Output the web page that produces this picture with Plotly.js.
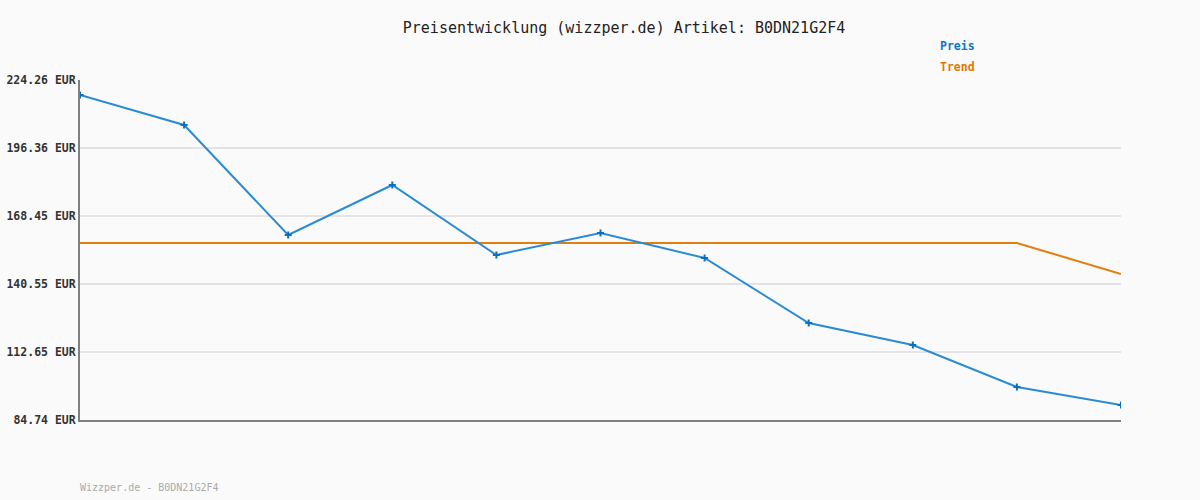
<!DOCTYPE html>
<html>
<head>
<meta charset="utf-8">
<script src="https://cdn.plot.ly/plotly-3.0.1.min.js"></script>
<style>html,body{margin:0;padding:0;background:#fafafa;}#chart{width:1200px;height:500px;}</style>
</head>
<body>
<div id="chart"></div>
<script>
const points = ["1","2","3","4","5","6","7","8","9","10","11"];
const preis = [218.10, 205.79, 160.66, 181.17, 152.45, 161.48, 151.22, 124.55, 115.52, 98.29, 90.90];
const trend = [157.38, 157.38, 157.38, 157.38, 157.38, 157.38, 157.38, 157.38, 157.38, 157.38, 144.66];
const tickVals = [84.74, 112.65, 140.55, 168.45, 196.36, 224.26];
const tickText = ["84.74 EUR", "112.65 EUR", "140.55 EUR", "168.45 EUR", "196.36 EUR", "224.26 EUR"];
const titleText = "Preisentwicklung (wizzper.de) Artikel: B0DN21G2F4";
const footerText = "Wizzper.de - B0DN21G2F4";
const seriesNames = ["Preis", "Trend"];

const mono = "DejaVu Sans Mono, monospace";
const blue = "#2a8bd4", orange = "#e07f10";

const data = [
  {x: points, y: trend, type: "scatter", mode: "lines", name: seriesNames[1],
   line: {color: orange, width: 2}, hoverinfo: "skip"},
  {x: points, y: preis, type: "scatter", mode: "lines+markers", name: seriesNames[0],
   line: {color: blue, width: 2}, marker: {symbol: "cross-thin", size: 5, color: "#0a6fc0", line: {color: "#0a6fc0", width: 2}}}
];

const layout = {
  width: 1200, height: 500,
  paper_bgcolor: "#fafafa", plot_bgcolor: "#fafafa",
  margin: {l: 80, r: 79, t: 80, b: 80},
  showlegend: false,
  title: {text: titleText, font: {family: mono, size: 15, color: "#222"},
          x: 0.5226, xref: "paper", xanchor: "center", y: 0.944, yref: "container", yanchor: "middle"},
  xaxis: {type: "category", range: [0, 10], showgrid: false, zeroline: false,
          showticklabels: false, ticks: "", showline: true, linecolor: "#808080", linewidth: 2},
  yaxis: {range: [84.74, 224.26], tickvals: tickVals, ticktext: tickText, ticks: "",
          showgrid: true, gridcolor: "#e4e4e4", gridwidth: 2, zeroline: false,
          showline: true, linecolor: "#808080", linewidth: 2,
          tickfont: {family: mono, size: 11.5, color: "#333", weight: "bold"}},
  annotations: [
    {text: "<b>" + seriesNames[0] + "</b>", xref: "paper", yref: "paper", x: (938-80)/1041, y: (420-46)/340,
     xanchor: "left", yanchor: "middle", showarrow: false, font: {family: mono, size: 11.5, color: "#0a77c8"}},
    {text: "<b>" + seriesNames[1] + "</b>", xref: "paper", yref: "paper", x: (938-80)/1041, y: (420-67)/340,
     xanchor: "left", yanchor: "middle", showarrow: false, font: {family: mono, size: 11.5, color: "#e07800"}},
    {text: footerText, xref: "paper", yref: "paper", x: -0.002, y: (420-487)/340,
     xanchor: "left", yanchor: "middle", showarrow: false, font: {family: mono, size: 10, color: "#aaaaaa"}}
  ]
};

Plotly.newPlot("chart", data, layout, {displayModeBar: false, staticPlot: true});
</script>
</body>
</html>
